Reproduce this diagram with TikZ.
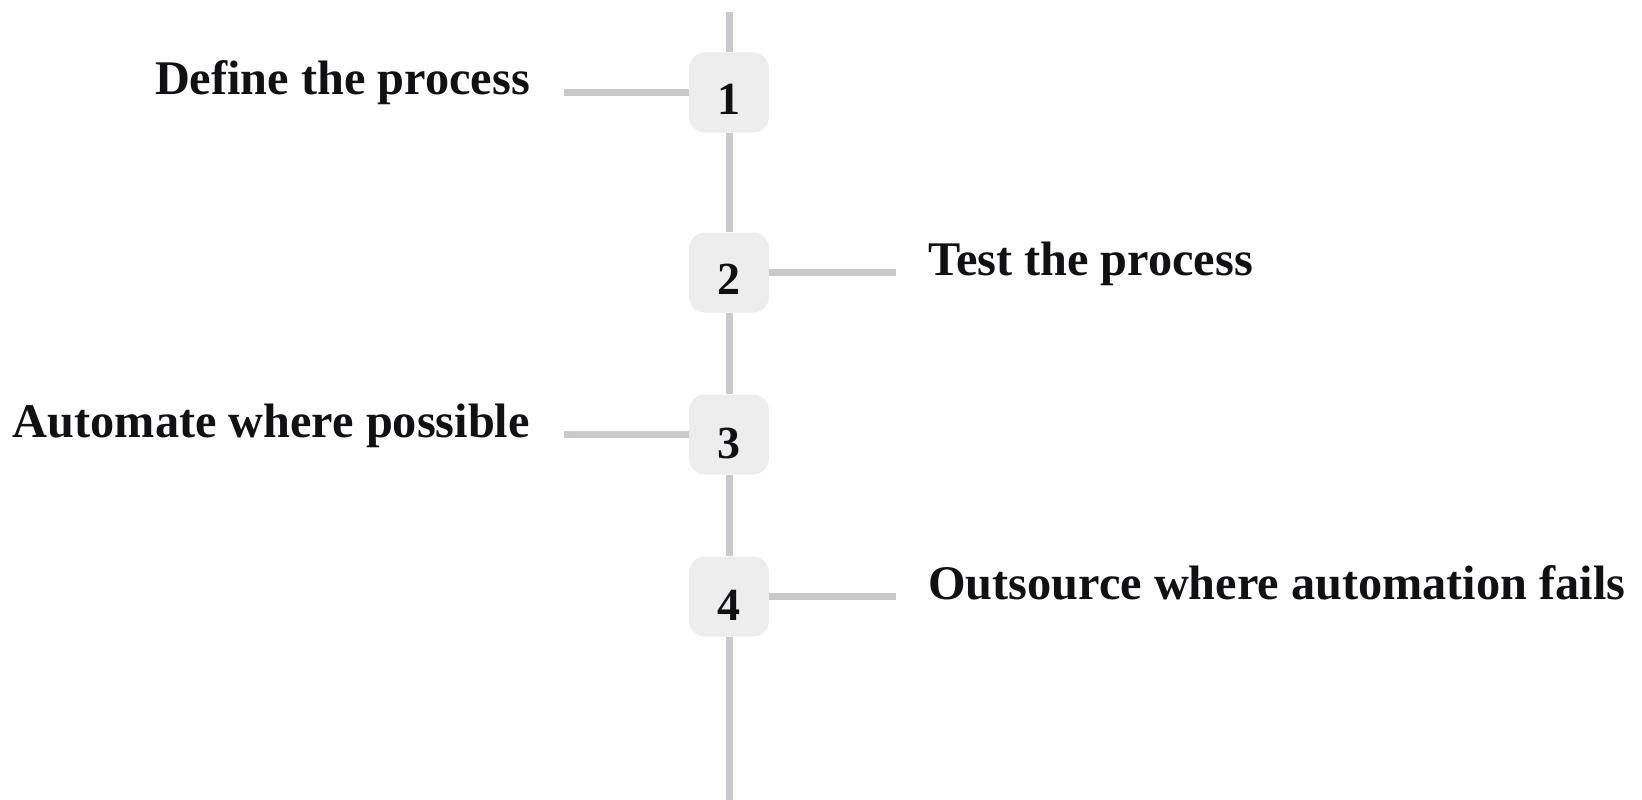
\documentclass[tikz,border=0pt]{standalone}
\usepackage{fontspec}
\setmainfont{Liberation Serif}
\definecolor{linegray}{HTML}{C9C8CD}
\definecolor{boxgray}{HTML}{EDEDED}
\definecolor{ink}{HTML}{111114}
\begin{document}
\begin{tikzpicture}[x=1pt,y=-1pt,
  stepbox/.style={fill=boxgray, draw=none, rounded corners=16pt, minimum width=80pt, minimum height=80pt, inner sep=0pt},
  num/.style={text=ink, font=\fontsize{46}{46}\selectfont\bfseries, inner sep=0pt, anchor=base},
  lbl/.style={text=ink, font=\fontsize{48.3}{48.3}\selectfont\bfseries, inner sep=0pt},
  conn/.style={draw=linegray, line width=7.5pt},
  spine/.style={draw=linegray, line width=7pt}]
\useasboundingbox (0,0) rectangle (1642,800);
% boxes
\node[stepbox] (b1) at (729,92.5) {};
\node[stepbox] (b2) at (729,272.5) {};
\node[stepbox] (b3) at (729,434.5) {};
\node[stepbox] (b4) at (729,596.5) {};
% numbers
\node[num] (n1) at ([yshift=-22pt]b1.center) {1};
\node[num] (n2) at ([yshift=-22pt]b2.center) {2};
\node[num] (n3) at ([yshift=-24pt]b3.center) {3};
\node[num] (n4) at ([yshift=-24pt]b4.center) {4};
% spine
\coordinate (top) at (729,12);
\coordinate (bottom) at (729,800);
\draw[spine] (top) -- (b1.north);
\draw[spine] (b1.south) -- (b2.north);
\draw[spine] (b2.south) -- (b3.north);
\draw[spine] (b3.south) -- (b4.north);
\draw[spine] (b4.south) -- (bottom);
% connectors
\coordinate (c1) at (564,92.5);
\coordinate (c2) at (896,272.5);
\coordinate (c3) at (564,434.5);
\coordinate (c4) at (896,596.5);
\draw[conn] (c1) -- (b1.west);
\draw[conn] (b2.east) -- (c2);
\draw[conn] (c3) -- (b3.west);
\draw[conn] (b4.east) -- (c4);
% labels
\node[lbl, anchor=base east] (l1) at (530,95) {Define the process};
\node[lbl, anchor=base west] (l2) at (928,275) {Test the process};
\node[lbl, anchor=base east] (l3) at (530,437) {Automate where possible};
\node[lbl, anchor=base west] (l4) at (928,599) {Outsource where automation fails};
\end{tikzpicture}
\end{document}
